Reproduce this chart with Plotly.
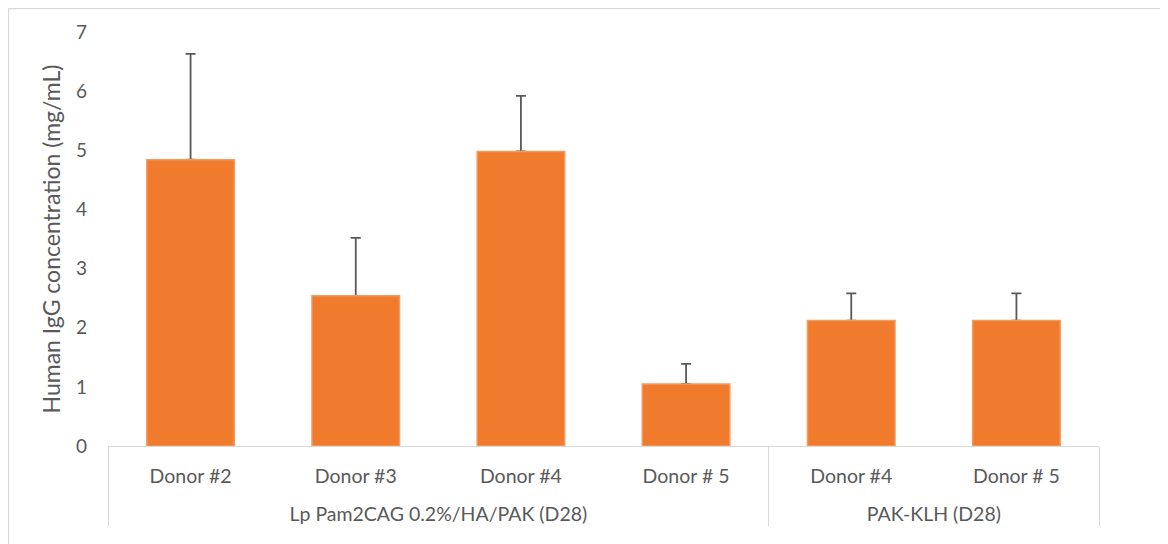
import plotly.graph_objects as go

groups = ["<br>Lp Pam2CAG 0.2%/HA/PAK (D28)"] * 4 + ["<br>PAK-KLH (D28)"] * 2
donors = ["Donor #2", "Donor #3", "Donor #4", "Donor # 5", "Donor #4", "Donor # 5"]
igg = [4.84, 2.54, 4.98, 1.05, 2.12, 2.12]
err_plus = [1.79, 0.98, 0.94, 0.34, 0.46, 0.46]
err_minus = [0, 0, 0, 0, 0, 0]

FONT = "Lato"
TXT = "#595959"
GRID = "#D9D9D9"

W, H = 1168, 544
ML, MR, MT, MB = 100, 77, 24, 106
PW, PH = W - ML - MR, H - MT - MB

fig = go.Figure()
# error bars (drawn underneath the bars so only the upper whisker shows)
fig.add_trace(go.Bar(
    x=[groups, donors], y=igg,
    marker=dict(color="rgba(0,0,0,0)", line=dict(width=0)),
    error_y=dict(type="data", symmetric=False, array=err_plus, arrayminus=err_minus,
                 color=TXT, thickness=1.8, width=5),
    hoverinfo="skip", showlegend=False,
))
fig.add_trace(go.Bar(
    x=[groups, donors], y=igg,
    marker=dict(color="#F07B2C", line=dict(color="#F29A60", width=1.5)),
    showlegend=False,
))

fig.update_layout(
    width=W, height=H,
    barmode="overlay", bargap=0.47,
    paper_bgcolor="white", plot_bgcolor="white",
    margin=dict(l=ML, r=MR, t=MT, b=MB),
    font=dict(family=FONT, size=19, color=TXT),
    xaxis=dict(
        type="multicategory", showline=True, linecolor=GRID, linewidth=1.3,
        showgrid=False, ticks="", showdividers=True, dividercolor=GRID, dividerwidth=1.3,
        ticklabelstandoff=12,
        tickfont=dict(family=FONT, size=19.5, color=TXT),
    ),
    yaxis=dict(
        range=[0, 7], dtick=1, showgrid=False, zeroline=False, showline=False,
        ticks="", ticklabelstandoff=20,
        tickfont=dict(family=FONT, size=19, color=TXT),
        title=dict(text="Human IgG concentration (mg/mL)", standoff=8,
                   font=dict(family=FONT, size=23, color=TXT)),
    ),
    shapes=[dict(type="rect", xref="paper", yref="paper",
                 x0=(0.5 - ML) / PW, x1=(W + 20 - ML) / PW,
                 y0=-(H + 20 - MT - PH) / PH, y1=(MT + PH - 0.5) / PH,
                 line=dict(color=GRID, width=1.3), fillcolor="rgba(0,0,0,0)", layer="below")],
)

fig.write_html("out.html")
